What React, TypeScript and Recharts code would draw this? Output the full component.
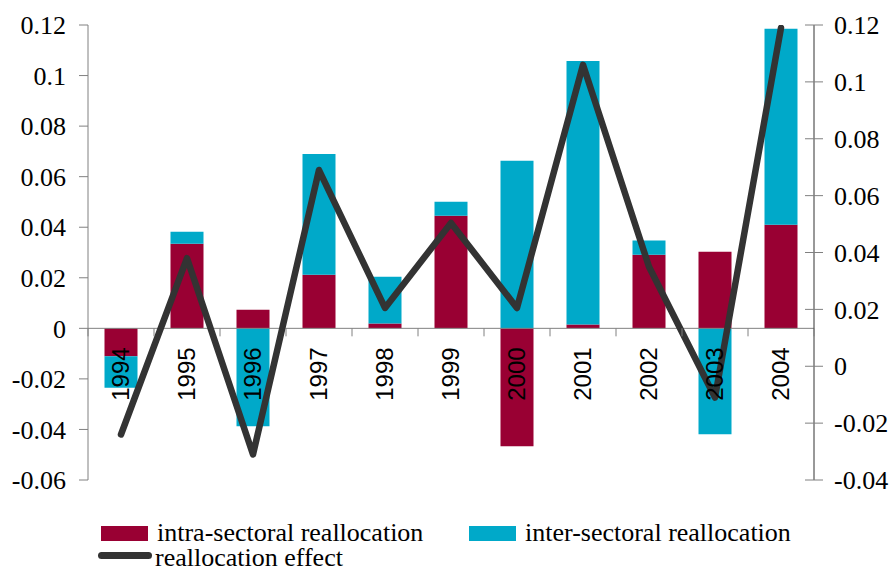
import React from 'react';
import {
  ComposedChart,
  Bar,
  Line,
  XAxis,
  YAxis,
  Legend,
  ReferenceLine,
} from 'recharts';

/* Reallocation effect 1994-2004: stacked intra/inter bars (left axis) + total line (right axis) */

const years = ['1994', '1995', '1996', '1997', '1998', '1999', '2000', '2001', '2002', '2003', '2004'];
const intraSectoral = [-0.011, 0.0335, 0.0074, 0.0212, 0.0019, 0.0445, -0.0466, 0.0015, 0.0291, 0.0303, 0.041];
const interSectoral = [-0.0125, 0.0047, -0.0387, 0.0478, 0.0185, 0.0056, 0.0663, 0.1043, 0.0056, -0.0419, 0.0775];
const reallocationEffect = [-0.024, 0.038, -0.031, 0.069, 0.0205, 0.0504, 0.0205, 0.106, 0.035, -0.011, 0.119];

const leftTicks = [-0.06, -0.04, -0.02, 0, 0.02, 0.04, 0.06, 0.08, 0.1, 0.12];
const rightTicks = [-0.04, -0.02, 0, 0.02, 0.04, 0.06, 0.08, 0.1, 0.12];

const data = years.map((year, i) => ({
  year,
  intra: intraSectoral[i],
  inter: interSectoral[i],
  effect: reallocationEffect[i],
}));

const WIDTH = 893;
const HEIGHT = 570;
const TOP = 25;
const LEFT_W = 88;
const RIGHT_W = 79;
const XAXIS_H = 40;
const LEGEND_H = 50;
const PLOT_H = HEIGHT - TOP - XAXIS_H - LEGEND_H;
const PLOT_W = WIDTH - LEFT_W - RIGHT_W;
const LEFT_MIN = -0.06;
const LEFT_MAX = 0.12;

const RED = '#990033';
const CYAN = '#00a9c9';
const DARK = '#333333';
const GRAY = '#808080';
const SERIF = 'Liberation Serif, DejaVu Serif, serif';
const SANS = 'Liberation Sans, Arial, sans-serif';

// x axis sits on the zero line of the left axis
const zeroY = TOP + (PLOT_H * LEFT_MAX) / (LEFT_MAX - LEFT_MIN);
const band = PLOT_W / years.length;

function YearTick(props: any) {
  const { x, payload, index } = props;
  const ty = zeroY + 19;
  const tx = x + 8;
  return (
    <g>
      <line x1={x - band / 2} x2={x - band / 2} y1={zeroY} y2={zeroY + 8} stroke={GRAY} strokeWidth={1} />
      {index === years.length - 1 && (
        <line x1={x + band / 2} x2={x + band / 2} y1={zeroY} y2={zeroY + 8} stroke={GRAY} strokeWidth={1} />
      )}
      <text
        x={tx}
        y={ty}
        transform={`rotate(-90, ${tx}, ${ty})`}
        textAnchor="end"
        style={{ fontFamily: SANS }}
        fontSize={24}
        fill="#000"
      >
        {payload.value}
      </text>
    </g>
  );
}

function LeftTick(props: any) {
  const { x, y, payload } = props;
  return (
    <text x={x} y={y} dy="0.355em" textAnchor="end" style={{ fontFamily: SERIF }} fontSize={26} fill="#000">
      {String(payload.value)}
    </text>
  );
}

function RightTick(props: any) {
  const { x, y, payload } = props;
  return (
    <g>
      <line x1={x - 29} x2={x - 11} y1={y} y2={y} stroke={GRAY} strokeWidth={1} />
      <text x={x} y={y} dy="0.355em" textAnchor="start" style={{ fontFamily: SERIF }} fontSize={26} fill="#000">
        {String(payload.value)}
      </text>
    </g>
  );
}

function LegendBox() {
  const text: React.CSSProperties = {
    position: 'absolute',
    fontFamily: SERIF,
    fontSize: 26,
    lineHeight: '22px',
    color: '#000',
    whiteSpace: 'nowrap',
  };
  return (
    <div style={{ position: 'relative', height: LEGEND_H, width: WIDTH }}>
      <div style={{ position: 'absolute', left: 101, top: 6, width: 47, height: 15, background: RED }} />
      <div style={{ ...text, left: 157, top: 2 }}>intra-sectoral reallocation</div>
      <div style={{ position: 'absolute', left: 469, top: 6, width: 47, height: 15, background: CYAN }} />
      <div style={{ ...text, left: 525, top: 2 }}>inter-sectoral reallocation</div>
      <div style={{ position: 'absolute', left: 98, top: 32, width: 54, height: 7, borderRadius: 4, background: DARK }} />
      <div style={{ ...text, left: 155, top: 27 }}>reallocation effect</div>
    </div>
  );
}

export default function App() {
  return (
    <div style={{ position: 'absolute', left: 0, top: 0, width: WIDTH, height: HEIGHT, background: '#fff' }}>
      <ComposedChart
        width={WIDTH}
        height={HEIGHT}
        data={data}
        stackOffset="sign"
        barCategoryGap="25%"
        margin={{ top: TOP, right: 0, left: 0, bottom: 0 }}
      >
        <YAxis
          yAxisId="left"
          domain={[LEFT_MIN, LEFT_MAX]}
          ticks={leftTicks}
          width={LEFT_W}
          axisLine={{ stroke: GRAY }}
          tickLine={{ stroke: GRAY }}
          tickSize={9}
          tickMargin={13}
          tick={<LeftTick />}
          allowDataOverflow
        />
        <YAxis
          yAxisId="right"
          orientation="right"
          domain={[-0.04, 0.12]}
          ticks={rightTicks}
          width={RIGHT_W}
          axisLine={{ stroke: DARK }}
          tickLine={false}
          tickSize={0}
          tickMargin={20}
          tick={<RightTick />}
          allowDataOverflow
        />
        <Bar dataKey="intra" stackId="a" yAxisId="left" fill={RED} isAnimationActive={false} />
        <Bar dataKey="inter" stackId="a" yAxisId="left" fill={CYAN} isAnimationActive={false} />
        <ReferenceLine y={0} yAxisId="left" stroke={GRAY} strokeWidth={1} />
        <XAxis
          dataKey="year"
          height={XAXIS_H}
          axisLine={false}
          tickLine={false}
          interval={0}
          tick={<YearTick />}
        />
        <Line
          dataKey="effect"
          yAxisId="right"
          type="linear"
          stroke={DARK}
          strokeWidth={6.5}
          strokeLinecap="round"
          strokeLinejoin="round"
          dot={false}
          isAnimationActive={false}
        />
        <Legend verticalAlign="bottom" content={<LegendBox />} />
      </ComposedChart>
    </div>
  );
}
